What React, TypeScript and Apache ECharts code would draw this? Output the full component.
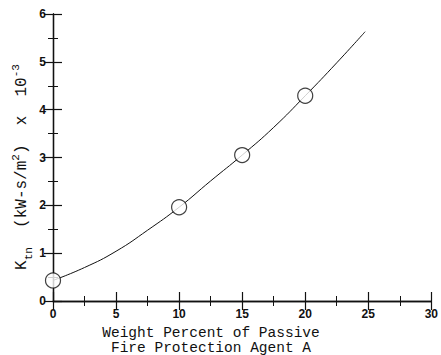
import React, { useEffect, useRef } from "react";
import * as echarts from "echarts";

const xTicks = [0, 5, 10, 15, 20, 25, 30];
const yTicks = [0, 1, 2, 3, 4, 5, 6];
const measuredX = [0, 10, 15, 20];
const measuredY = [0.43, 1.96, 3.05, 4.29];
const fitX = [0, 2.5, 5, 7.5, 10, 12.5, 15, 17.5, 20, 22.5, 24.75];
const fitY = [0.43, 0.7, 1.04, 1.48, 1.96, 2.51, 3.05, 3.63, 4.29, 4.98, 5.63];
const xTitle = ["Weight Percent of Passive", "Fire Protection Agent A"];

export default function App() {
  const ref = useRef<HTMLDivElement>(null);
  useEffect(() => {
    if (!ref.current) return;
    const chart = echarts.init(ref.current, undefined, { renderer: "svg" });
    const mono = "Liberation Mono";
    const tickFont = { fontFamily: "Liberation Sans", fontSize: 12, fontWeight: "bold" as const, color: "#111" };
    const axisCommon = {
      axisLine: { show: true, lineStyle: { color: "#111", width: 1.3 } },
      axisTick: { show: true, inside: true, length: 9, lineStyle: { color: "#111", width: 1.2 } },
      minorTick: { show: true, splitNumber: 2, length: 5, lineStyle: { color: "#111", width: 1 } },
      splitLine: { show: false },
    };
    chart.setOption({
      animation: false,
      backgroundColor: "#fff",
      grid: { left: 53, right: 9, top: 14, bottom: 54 },
      xAxis: [
        {
          type: "value", min: xTicks[0], max: xTicks[xTicks.length - 1], interval: 5, position: "bottom",
          ...axisCommon,
          axisLabel: { ...tickFont, margin: 7 },
        },
        {
          type: "value", min: xTicks[0], max: xTicks[xTicks.length - 1], interval: 5, position: "top",
          ...axisCommon, axisLabel: { show: false },
        },
      ],
      yAxis: [
        {
          type: "value", min: yTicks[0], max: yTicks[yTicks.length - 1], interval: 1, position: "left",
          ...axisCommon,
          axisLabel: { ...tickFont, margin: 7 },
        },
        {
          type: "value", min: yTicks[0], max: yTicks[yTicks.length - 1], interval: 1, position: "right",
          ...axisCommon, axisLabel: { show: false },
        },
      ],
      graphic: [
        {
          type: "text", x: 211, y: 325,
          style: { text: xTitle[0], fontFamily: mono, fontSize: 14.5, fill: "#111", align: "center", verticalAlign: "top" },
        },
        {
          type: "text", x: 211, y: 340,
          style: { text: xTitle[1], fontFamily: mono, fontSize: 14.5, fill: "#111", align: "center", verticalAlign: "top" },
        },
        {
          type: "text", x: 22, y: 167, rotation: Math.PI / 2,
          style: {
            text: "{n|K}{sub|tn}{n|  (kW-s/m}{sup|2}{n|)  x  10}{sup|-3}",
            align: "center", verticalAlign: "middle",
            fontFamily: mono, fontSize: 16, fill: "#111",
            rich: {
              n: { fontFamily: mono, fontSize: 16, fill: "#111", lineHeight: 24, verticalAlign: "middle" },
              sub: { fontFamily: mono, fontSize: 11, fill: "#111", lineHeight: 24, verticalAlign: "bottom" },
              sup: { fontFamily: mono, fontSize: 11, fill: "#111", lineHeight: 24, verticalAlign: "top" },
            },
          },
        },
      ],
      series: [
        {
          type: "line", smooth: true, showSymbol: false, symbol: "none",
          data: fitX.map((x, i) => [x, fitY[i]]),
          lineStyle: { color: "#111", width: 1 },
          z: 2,
        },
        {
          type: "scatter", symbol: "circle", symbolSize: 15,
          data: measuredX.map((x, i) => [x, measuredY[i]]),
          itemStyle: { color: "#fff", borderColor: "#111", borderWidth: 1.2 },
          z: 3,
        },
      ],
    });
    return () => chart.dispose();
  }, []);
  return <div ref={ref} style={{ width: 441, height: 355, position: "absolute", left: 0, top: 0 }} />;
}
